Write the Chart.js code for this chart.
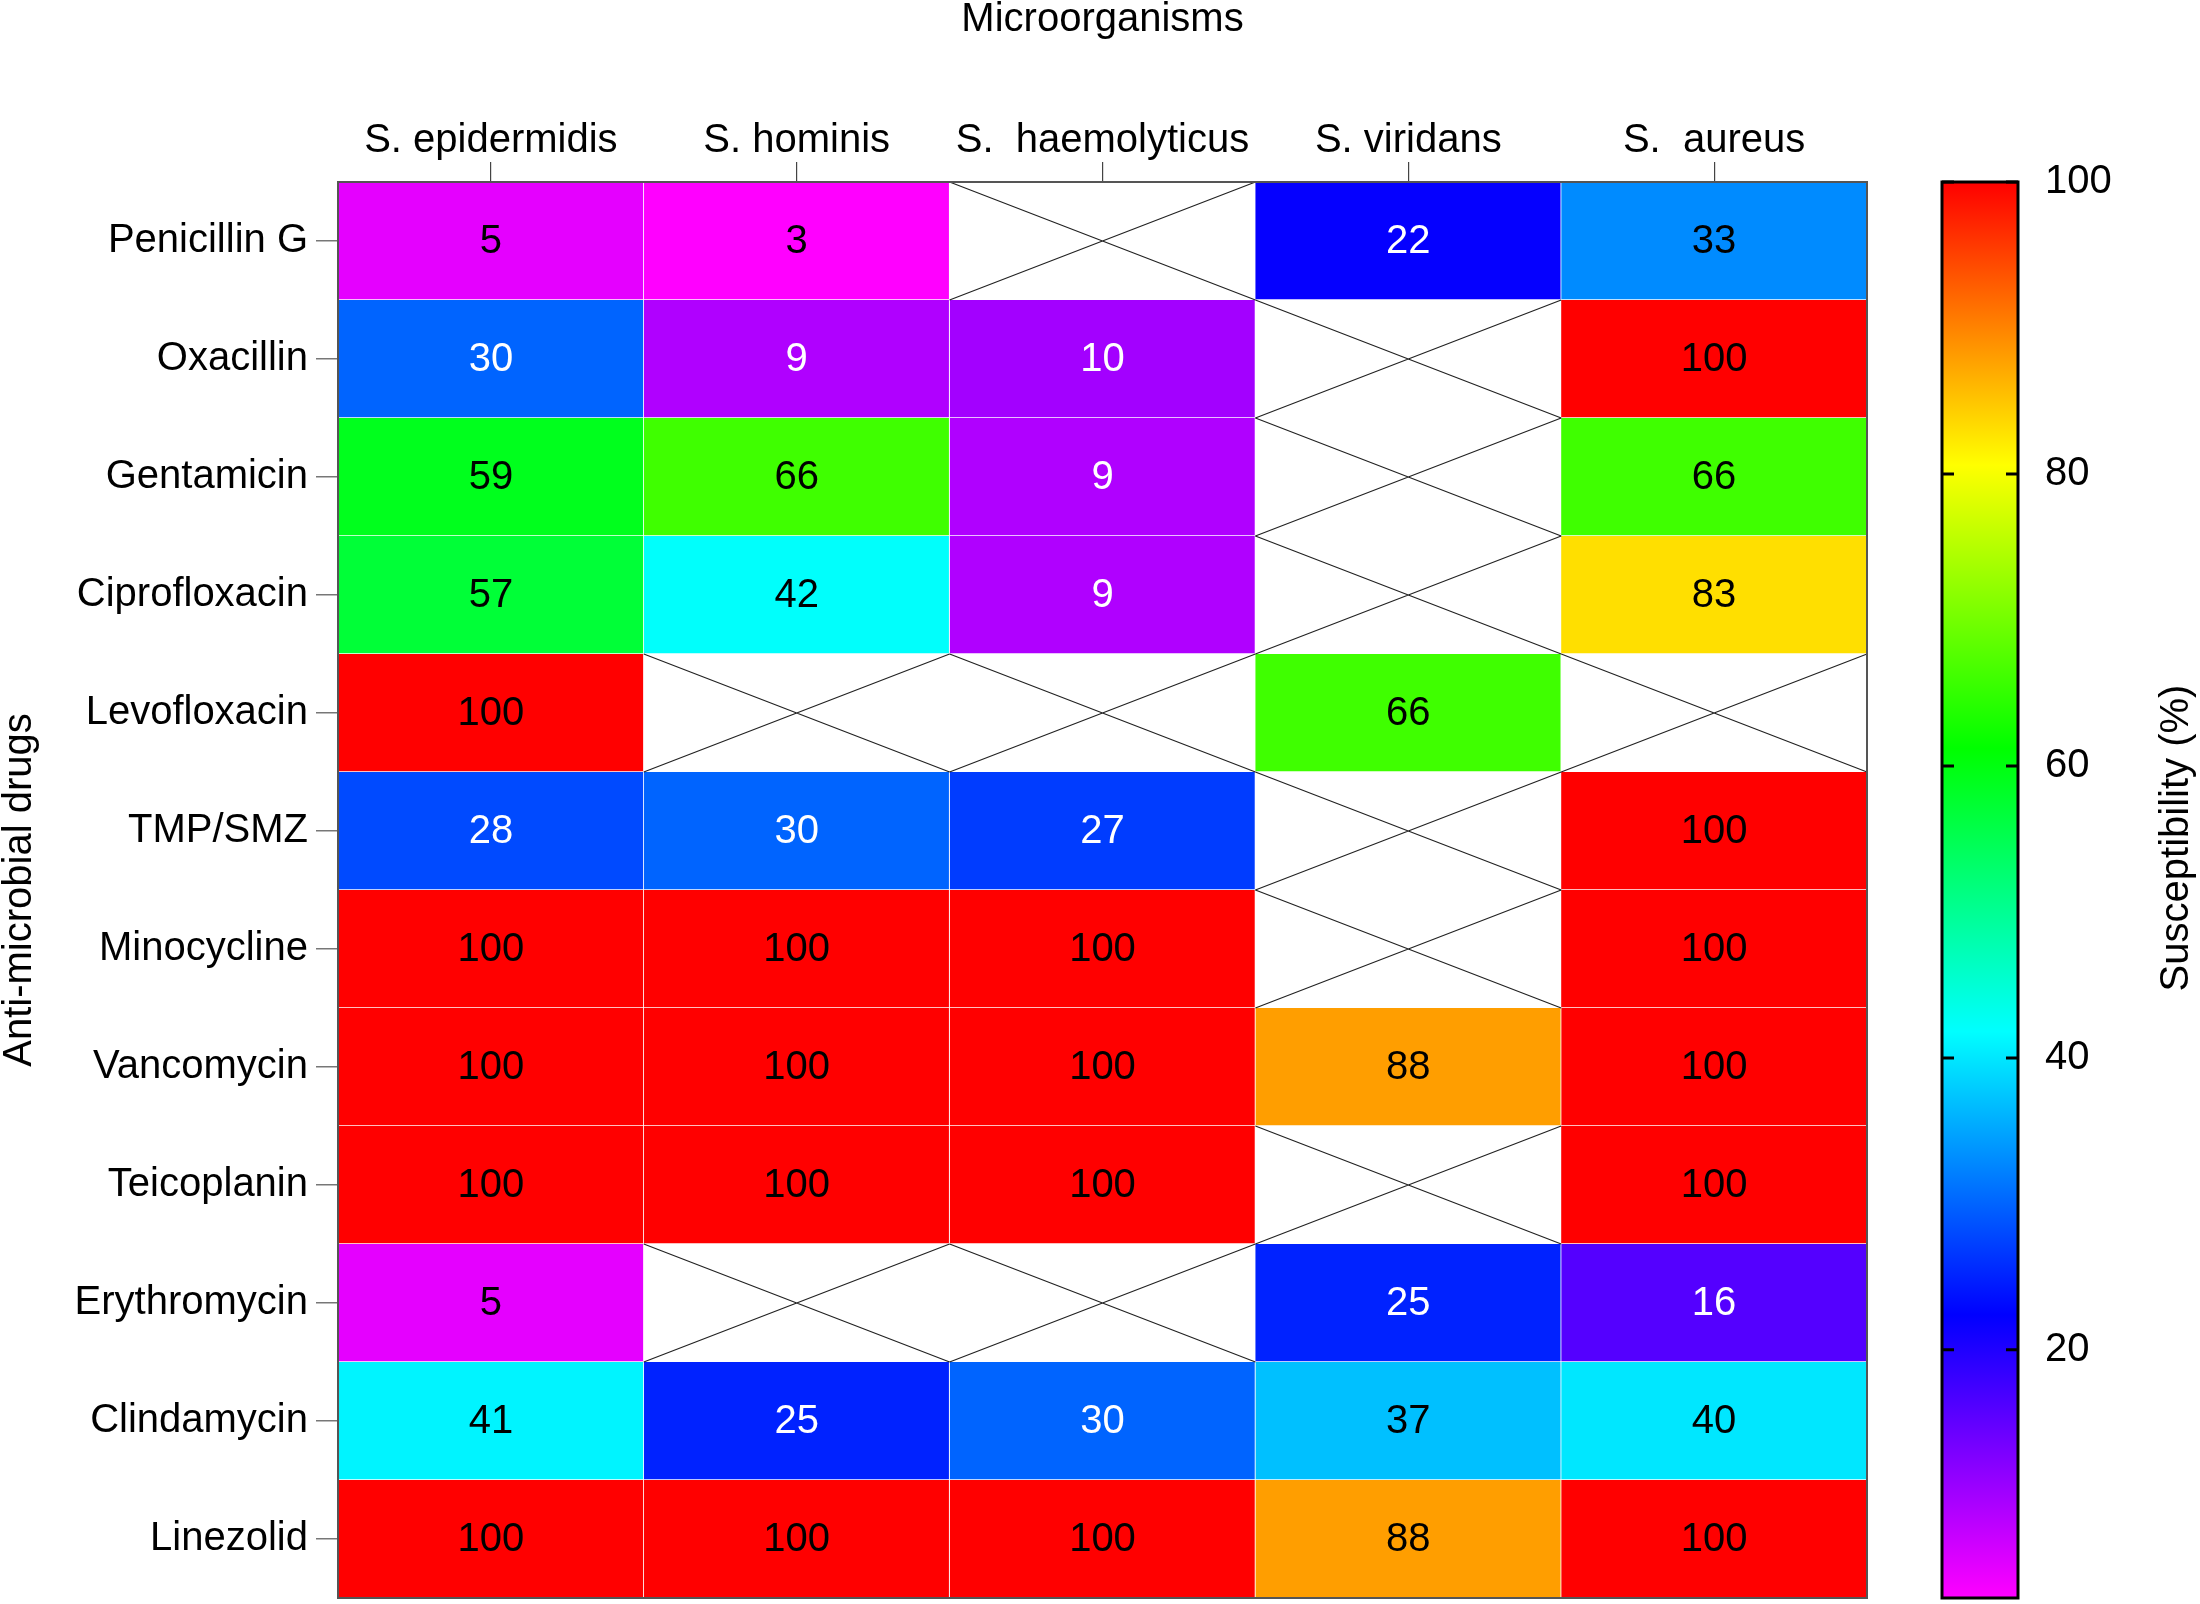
<!DOCTYPE html>
<html>
<head>
<meta charset="utf-8">
<script src="https://cdn.jsdelivr.net/npm/chart.js@4.4.1/dist/chart.umd.min.js"></script>
<style>
  html, body { margin: 0; padding: 0; background: #fff; }
  #wrap { width: 2200px; height: 1604px; }
</style>
</head>
<body>
<div id="wrap"><canvas id="heat"></canvas></div>
<script>
// ── data ──────────────────────────────────────────────
const drugs = ['Penicillin G', 'Oxacillin', 'Gentamicin', 'Ciprofloxacin', 'Levofloxacin', 'TMP/SMZ',
               'Minocycline', 'Vancomycin', 'Teicoplanin', 'Erythromycin', 'Clindamycin', 'Linezolid'];
const organisms = ['S. epidermidis', 'S. hominis', 'S.  haemolyticus', 'S. viridans', 'S.  aureus'];

// susceptibility (%) per organism, one value per drug (null = not tested)
const epidermidis  = [5, 30, 59, 57, 100, 28, 100, 100, 100, 5, 41, 100];
const hominis      = [3, 9, 66, 42, null, 30, 100, 100, 100, null, 25, 100];
const haemolyticus = [null, 10, 9, 9, null, 27, 100, 100, 100, null, 30, 100];
const viridans     = [22, null, null, null, 66, null, null, 88, null, 25, 37, 88];
const aureus       = [33, 100, 66, 83, null, 100, 100, 100, 100, 16, 40, 100];

const series = [epidermidis, hominis, haemolyticus, viridans, aureus];
const colorTicks = [20, 40, 60, 80, 100];
const vMin = 3, vMax = 100;

// ── colour scale: magenta (low) → red (high) ──────────
function hueFor(v) { return 300 * (vMax - v) / (vMax - vMin); }
function heatColor(v) { return `hsl(${hueFor(v)},100%,50%)`; }
function hslRgb(h) {
    const f = n => {
        const k = (n + h / 30) % 12;
        return 0.5 - 0.5 * Math.max(-1, Math.min(k - 3, 9 - k, 1));
    };
    return [f(0), f(8), f(4)];
}
function textColor(v) {
    const lin = c => Math.pow(c, 2.2);
    const [r, g, b] = hslRgb(hueFor(v));
    const lum = 0.2126 * lin(r) + 0.7152 * lin(g) + 0.0722 * lin(b);
    return lum < 0.2 ? '#fff' : '#000';
}

const FONT = 'Liberation Sans, Arial, sans-serif';
Chart.defaults.font.family = FONT;
Chart.defaults.font.size = 40;
Chart.defaults.color = '#000';

// vertical scales reserve room for half a label above/below; not wanted here
const noEdgePad = ax => { ax.paddingTop = 0; ax.paddingBottom = 0; };

// cell labels, "not tested" crosses, frame, colour bar
const heatDecor = {
    id: 'heatDecor',
    afterDatasetsDraw(chart) {
        const ctx = chart.ctx;
        ctx.save();
        series.forEach((vals, i) => {
            const meta = chart.getDatasetMeta(i);
            meta.data.forEach((bar, j) => {
                const { x, y, base, height } = bar.getProps(['x', 'y', 'base', 'height'], true);
                const l = Math.min(x, base), r = Math.max(x, base);
                const t = y - height / 2, b = y + height / 2;
                const v = vals[j];
                if (v == null) {
                    ctx.strokeStyle = '#222';
                    ctx.lineWidth = 1.2;
                    ctx.beginPath();
                    ctx.moveTo(l, t); ctx.lineTo(r, b);
                    ctx.moveTo(l, b); ctx.lineTo(r, t);
                    ctx.stroke();
                } else {
                    ctx.fillStyle = textColor(v);
                    ctx.font = `40px ${FONT}`;
                    ctx.textAlign = 'center';
                    ctx.textBaseline = 'middle';
                    ctx.fillText(String(v), (l + r) / 2, y + 1);
                }
            });
        });
        const a = chart.chartArea;
        ctx.strokeStyle = '#555';
        ctx.lineWidth = 2;
        ctx.strokeRect(a.left, a.top, a.right - a.left, a.bottom - a.top);
        ctx.restore();
    },
    afterDraw(chart) {
        const ctx = chart.ctx;
        const s = chart.scales.cb;
        const a = chart.chartArea;
        const x0 = a.right + 75, w = 76;
        const yTop = s.getPixelForValue(vMax), yBot = s.getPixelForValue(vMin);
        ctx.save();
        const grad = ctx.createLinearGradient(0, yBot, 0, yTop);
        for (let k = 0; k <= 20; k++) {
            const v = vMin + (vMax - vMin) * k / 20;
            grad.addColorStop(k / 20, heatColor(v));
        }
        ctx.fillStyle = grad;
        ctx.fillRect(x0, yTop, w, yBot - yTop);
        ctx.strokeStyle = '#000';
        ctx.lineWidth = 3;
        ctx.strokeRect(x0, yTop, w, yBot - yTop);
        colorTicks.forEach(v => {
            const py = s.getPixelForValue(v);
            ctx.beginPath();
            ctx.moveTo(x0, py); ctx.lineTo(x0 + 12, py);
            ctx.moveTo(x0 + w - 12, py); ctx.lineTo(x0 + w, py);
            ctx.stroke();
        });
        // right title, reads bottom to top
        ctx.translate(2177, 838);
        ctx.rotate(-Math.PI / 2);
        ctx.fillStyle = '#000';
        ctx.font = `40px ${FONT}`;
        ctx.textAlign = 'center';
        ctx.textBaseline = 'middle';
        ctx.fillText('Susceptibility (%)', 0, 0);
        ctx.restore();
    }
};

new Chart(document.getElementById('heat'), {
    type: 'bar',
    data: {
        labels: drugs,
        datasets: series.map((vals, i) => ({
            label: organisms[i],
            data: vals.map(() => [i, i + 1]),
            backgroundColor: vals.map(v => v == null ? '#fff' : heatColor(v)),
            borderColor: vals.map(v => v == null ? 'rgba(255,255,255,0)' : 'rgba(255,255,255,0.75)'),
            borderWidth: { top: 0, left: 0, right: 1, bottom: 1 },
            borderSkipped: false,
            barPercentage: 1,
            categoryPercentage: 1,
            grouped: false
        }))
    },
    options: {
        indexAxis: 'y',
        responsive: true,
        maintainAspectRatio: false,
        devicePixelRatio: 1,
        animation: false,
        events: [],
        layout: { padding: { top: 0, left: 0, right: 0, bottom: 6 } },
        plugins: { legend: { display: false }, tooltip: { enabled: false } },
        scales: {
            x: {
                type: 'linear',
                position: 'top',
                min: 0, max: series.length,
                afterBuildTicks: ax => { ax.ticks = organisms.map((_, i) => ({ value: i + 0.5 })); },
                afterFit: ax => { ax.height = 182; ax.paddingLeft = 0; ax.paddingRight = 0; },
                ticks: {
                    autoSkip: false, maxRotation: 0, padding: -3,
                    callback: (v, idx) => organisms[idx]
                },
                grid: { drawOnChartArea: false, tickLength: 20, color: '#444', lineWidth: 1.2 },
                border: { display: false },
                title: { display: true, text: 'Microorganisms', font: { size: 40, lineHeight: 1 }, padding: 0 }
            },
            y: {
                type: 'category',
                position: 'left',
                offset: true,
                afterFit: ax => { ax.width = 338; noEdgePad(ax); },
                ticks: { autoSkip: false, padding: 8 },
                grid: { offset: false, drawOnChartArea: false, tickLength: 22, color: '#777', lineWidth: 1.5 },
                border: { display: false },
                title: { display: true, text: 'Anti-microbial drugs', font: { size: 40, lineHeight: 1 }, padding: 0 }
            },
            cb: {
                type: 'linear',
                axis: 'y',
                position: 'right',
                offset: false,
                min: vMin, max: vMax,
                afterBuildTicks: ax => { ax.ticks = colorTicks.map(v => ({ value: v })); },
                afterFit: ax => { ax.width = 333; noEdgePad(ax); },
                ticks: { padding: 178 },
                grid: { display: false, drawTicks: false, offset: false },
                border: { display: false }
            }
        }
    },
    plugins: [heatDecor]
});
</script>
</body>
</html>
